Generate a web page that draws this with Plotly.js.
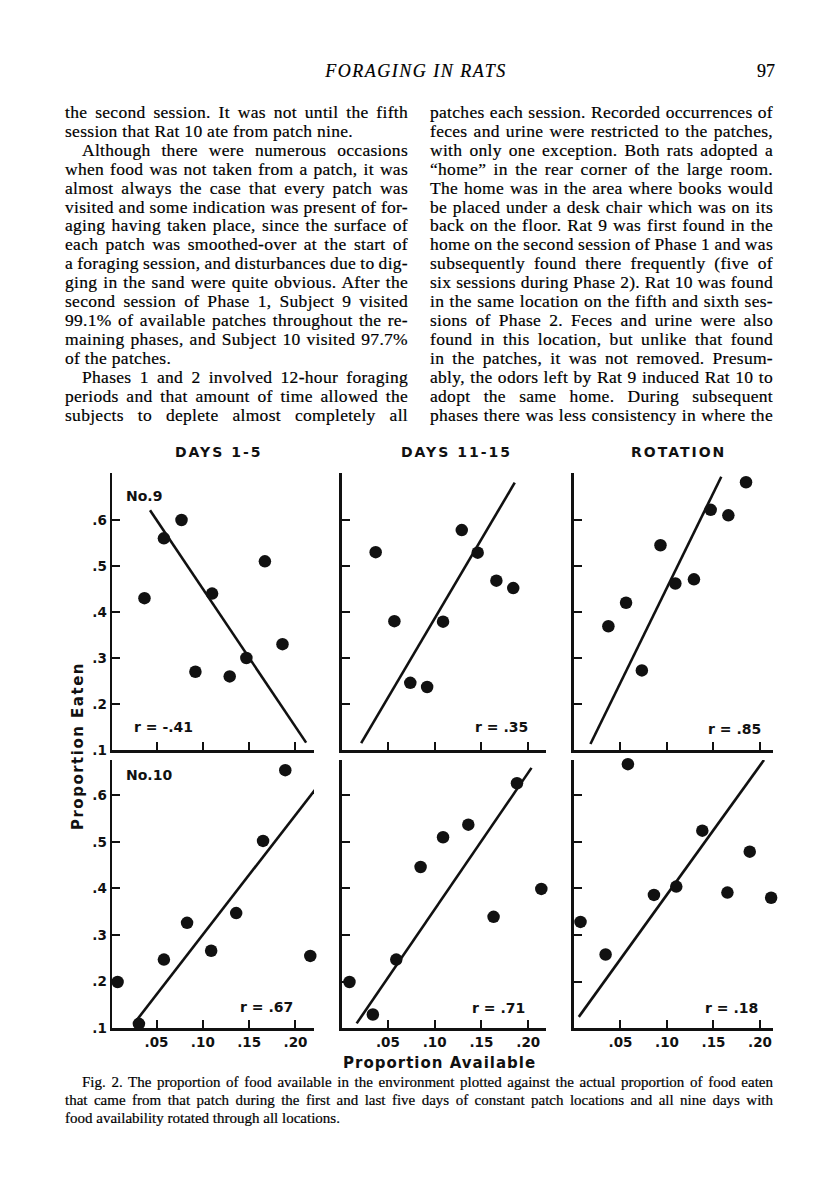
<!DOCTYPE html>
<html>
<head>
<meta charset="utf-8">
<title>Foraging in Rats - Fig. 2</title>
<script src="https://cdn.plot.ly/plotly-3.0.1.min.js"></script>
<style>
  body { margin: 0; background: #fff; }
  #page { position: relative; width: 816px; height: 1200px; overflow: hidden; background: #fff; }
  #plot { position: absolute; left: 0; top: 0; width: 816px; height: 1200px; }
  .serif { position: absolute; font-family: "Liberation Serif", "Times New Roman", serif; color: #000; -webkit-text-stroke: 0.2px #000; }
  .col { top: 103px; width: 343px; font-size: 17.5px; line-height: 18.9px; letter-spacing: 0.3px; }
  .ln { white-space: nowrap; }
  .ind { padding-left: 17px; }
  #runhead { top: 62px; left: 0; width: 832px; text-align: center; font-size: 18px; line-height: 1; font-style: italic; letter-spacing: 1.5px; }
  #folio { top: 62px; left: 700px; width: 75px; text-align: right; font-size: 18px; line-height: 1; }
  #caption { left: 65px; top: 1073px; width: 708px; font-size: 15px; line-height: 18px; }
</style>
</head>
<body>
<div id="page">
  <div id="plot"></div>

  <div class="serif" id="runhead">FORAGING IN RATS</div>
  <div class="serif" id="folio">97</div>

  <div class="serif col" id="left" style="left:65px">
    <div class="ln j"><span>the second session. It was not until the fifth</span></div>
    <div class="ln"><span>session that Rat 10 ate from patch nine.</span></div>
    <div class="ln j ind"><span>Although there were numerous occasions</span></div>
    <div class="ln j"><span>when food was not taken from a patch, it was</span></div>
    <div class="ln j"><span>almost always the case that every patch was</span></div>
    <div class="ln j"><span>visited and some indication was present of for-</span></div>
    <div class="ln j"><span>aging having taken place, since the surface of</span></div>
    <div class="ln j"><span>each patch was smoothed-over at the start of</span></div>
    <div class="ln j"><span>a foraging session, and disturbances due to dig-</span></div>
    <div class="ln j"><span>ging in the sand were quite obvious. After the</span></div>
    <div class="ln j"><span>second session of Phase 1, Subject 9 visited</span></div>
    <div class="ln j"><span>99.1% of available patches throughout the re-</span></div>
    <div class="ln j"><span>maining phases, and Subject 10 visited 97.7%</span></div>
    <div class="ln"><span>of the patches.</span></div>
    <div class="ln j ind"><span>Phases 1 and 2 involved 12-hour foraging</span></div>
    <div class="ln j"><span>periods and that amount of time allowed the</span></div>
    <div class="ln j"><span>subjects to deplete almost completely all</span></div>
  </div>

  <div class="serif col" id="right" style="left:430px">
    <div class="ln j"><span>patches each session. Recorded occurrences of</span></div>
    <div class="ln j"><span>feces and urine were restricted to the patches,</span></div>
    <div class="ln j"><span>with only one exception. Both rats adopted a</span></div>
    <div class="ln j"><span>“home” in the rear corner of the large room.</span></div>
    <div class="ln j"><span>The home was in the area where books would</span></div>
    <div class="ln j"><span>be placed under a desk chair which was on its</span></div>
    <div class="ln j"><span>back on the floor. Rat 9 was first found in the</span></div>
    <div class="ln j"><span>home on the second session of Phase 1 and was</span></div>
    <div class="ln j"><span>subsequently found there frequently (five of</span></div>
    <div class="ln j"><span>six sessions during Phase 2). Rat 10 was found</span></div>
    <div class="ln j"><span>in the same location on the fifth and sixth ses-</span></div>
    <div class="ln j"><span>sions of Phase 2. Feces and urine were also</span></div>
    <div class="ln j"><span>found in this location, but unlike that found</span></div>
    <div class="ln j"><span>in the patches, it was not removed. Presum-</span></div>
    <div class="ln j"><span>ably, the odors left by Rat 9 induced Rat 10 to</span></div>
    <div class="ln j"><span>adopt the same home. During subsequent</span></div>
    <div class="ln j"><span>phases there was less consistency in where the</span></div>
  </div>

  <div class="serif" id="caption">
    <div class="ln j ind"><span>Fig. 2. The proportion of food available in the environment plotted against the actual proportion of food eaten</span></div>
    <div class="ln j"><span>that came from that patch during the first and last five days of constant patch locations and all nine days with</span></div>
    <div class="ln"><span>food availability rotated through all locations.</span></div>
  </div>
</div>

<script>
// spread each printed line over its column, like the typeset page
document.querySelectorAll(".ln.j").forEach((el) => {
  const span = el.querySelector("span");
  const gaps = (span.textContent.match(/ /g) || []).length;
  const indent = el.classList.contains("ind") ? 17 : 0;
  const target = el.parentElement.clientWidth - indent;
  const natural = span.getBoundingClientRect().width;
  if (gaps) span.style.wordSpacing = (target - natural) / gaps + "px";
});

// --- data ---
const availTicks = [0.05, 0.1, 0.15, 0.2];
const availTickText = [".05", ".10", ".15", ".20"];
const eatenTicks = [0.1, 0.2, 0.3, 0.4, 0.5, 0.6];
const eatenTickText = [".1", ".2", ".3", ".4", ".5", ".6"];

const periods = ["DAYS 1-5", "DAYS 11-15", "ROTATION"];
const rats = ["No.9", "No.10"];
const rLabels = ["r = -.41", "r = .35", "r = .85", "r = .67", "r = .71", "r = .18"];

// Rat 9
const avail9Days1 = [0.037, 0.058, 0.077, 0.092, 0.110, 0.129, 0.147, 0.167, 0.186];
const eaten9Days1 = [0.43, 0.56, 0.60, 0.27, 0.44, 0.26, 0.30, 0.51, 0.33];
const avail9Days11 = [0.037, 0.057, 0.074, 0.092, 0.109, 0.129, 0.146, 0.166, 0.184];
const eaten9Days11 = [0.53, 0.38, 0.246, 0.237, 0.379, 0.578, 0.529, 0.468, 0.452];
const avail9Rot = [0.037, 0.056, 0.073, 0.093, 0.109, 0.129, 0.147, 0.166, 0.185];
const eaten9Rot = [0.369, 0.42, 0.273, 0.545, 0.462, 0.471, 0.622, 0.61, 0.682];

// Rat 10
const avail10Days1 = [0.008, 0.031, 0.058, 0.083, 0.109, 0.136, 0.165, 0.189, 0.216];
const eaten10Days1 = [0.199, 0.109, 0.247, 0.326, 0.266, 0.347, 0.502, 0.654, 0.255];
const avail10Days11 = [0.009, 0.034, 0.059, 0.085, 0.109, 0.136, 0.163, 0.188, 0.214];
const eaten10Days11 = [0.199, 0.129, 0.247, 0.446, 0.51, 0.537, 0.339, 0.626, 0.399];
const avail10Rot = [0.007, 0.034, 0.058, 0.086, 0.110, 0.138, 0.165, 0.189, 0.212];
const eaten10Rot = [0.328, 0.258, 0.667, 0.386, 0.404, 0.524, 0.391, 0.479, 0.38];

// fitted lines (end points as drawn)
const fit9Days1X = [0.043, 0.2115];
const fit9Days1Y = [0.621, 0.116];
const fit9Days11X = [0.0215, 0.1856];
const fit9Days11Y = [0.115, 0.681];
const fit9RotX = [0.0177, 0.1584];
const fit9RotY = [0.113, 0.694];
const fit10Days1X = [0.0267, 0.2366];
const fit10Days1Y = [0.112, 0.652];
const fit10Days11X = [0.0167, 0.2035];
const fit10Days11Y = [0.11, 0.659];
const fit10RotX = [0.0052, 0.2043];
const fit10RotY = [0.124, 0.676];

const panels = [
  { x: avail9Days1, y: eaten9Days1, fx: fit9Days1X, fy: fit9Days1Y },
  { x: avail9Days11, y: eaten9Days11, fx: fit9Days11X, fy: fit9Days11Y },
  { x: avail9Rot, y: eaten9Rot, fx: fit9RotX, fy: fit9RotY },
  { x: avail10Days1, y: eaten10Days1, fx: fit10Days1X, fy: fit10Days1Y },
  { x: avail10Days11, y: eaten10Days11, fx: fit10Days11X, fy: fit10Days11Y },
  { x: avail10Rot, y: eaten10Rot, fx: fit10RotX, fy: fit10RotY },
];

// --- layout of the 2 x 3 grid (page pixels -> paper) ---
const colDomains = [[0.1373, 0.3848], [0.4191, 0.6691], [0.7034, 0.9473]];
const rowDomains = [[0.375, 0.6058], [0.1433, 0.3667]];
const xRanges = [[0.002, 0.22], [0.001, 0.219], [0, 0.214]];
const yRanges = [[0.1, 0.702], [0.1, 0.676]];

const ink = "#111";
const sans = "DejaVu Sans";
const tickFont = { family: sans, size: 13.5, weight: "bold", color: ink };

const traces = [];
const layout = {
  width: 816,
  height: 1200,
  margin: { l: 0, r: 0, t: 0, b: 0 },
  paper_bgcolor: "#fff",
  plot_bgcolor: "rgba(0,0,0,0)",
  showlegend: false,
  annotations: [],
};

panels.forEach((p, i) => {
  const row = Math.floor(i / 3);
  const col = i % 3;
  const s = i === 0 ? "" : String(i + 1);

  traces.push({
    x: p.fx,
    y: p.fy,
    xaxis: "x" + s,
    yaxis: "y" + s,
    mode: "lines",
    line: { color: ink, width: 2.6 },
    hoverinfo: "skip",
  });
  traces.push({
    x: p.x,
    y: p.y,
    xaxis: "x" + s,
    yaxis: "y" + s,
    mode: "markers",
    marker: { color: ink, size: 12.5 },
    cliponaxis: false,
  });

  layout["xaxis" + s] = {
    domain: colDomains[col],
    range: xRanges[col],
    anchor: "y" + s,
    showline: true,
    linecolor: ink,
    linewidth: 2.5,
    ticks: "inside",
    ticklen: 8,
    tickwidth: 2,
    tickcolor: ink,
    tickvals: availTicks,
    ticktext: availTickText,
    showticklabels: row === 1,
    tickfont: tickFont,
    showgrid: false,
    zeroline: false,
    fixedrange: true,
  };
  layout["yaxis" + s] = {
    domain: rowDomains[row],
    range: yRanges[row],
    anchor: "x" + s,
    showline: true,
    linecolor: ink,
    linewidth: 2.5,
    ticks: "inside",
    ticklen: 8,
    tickwidth: 2,
    tickcolor: ink,
    tickvals: eatenTicks,
    ticktext: eatenTickText,
    showticklabels: col === 0,
    tickfont: tickFont,
    showgrid: false,
    zeroline: false,
    fixedrange: true,
  };
});

// column headings
const headX = [0.2684, 0.56, 0.832];
periods.forEach((t, c) => {
  layout.annotations.push({
    text: '<span style="letter-spacing:2px">' + t + "</span>",
    xref: "paper", yref: "paper",
    x: headX[c], y: 0.6233,
    xanchor: "center", yanchor: "middle",
    showarrow: false,
    font: { family: sans, size: 14, weight: "bold", color: ink },
  });
});

// rat labels
const ratY = [0.5867, 0.3542];
rats.forEach((t, r) => {
  layout.annotations.push({
    text: t,
    xref: "paper", yref: "paper",
    x: 0.152, y: ratY[r],
    xanchor: "left", yanchor: "middle",
    showarrow: false,
    font: { family: sans, size: 14, weight: "bold", color: ink },
  });
});

// correlation labels
const rRight = [0.239, 0.6495, 0.935, 0.3615, 0.6458, 0.9314];
const rY = [0.394, 0.394, 0.3925, 0.1608, 0.16, 0.16];
rLabels.forEach((t, i) => {
  layout.annotations.push({
    text: t,
    xref: "paper", yref: "paper",
    x: rRight[i], y: rY[i],
    xanchor: "right", yanchor: "middle",
    showarrow: false,
    font: { family: sans, size: 14, weight: "bold", color: ink },
  });
});

// shared axis titles
layout.annotations.push({
  text: '<span style="letter-spacing:1.5px">Proportion Eaten</span>',
  xref: "paper", yref: "paper",
  x: 0.0956, y: 0.3783,
  xanchor: "center", yanchor: "middle",
  textangle: -90,
  showarrow: false,
  font: { family: sans, size: 15, weight: "bold", color: ink },
});
layout.annotations.push({
  text: '<span style="letter-spacing:1px">Proportion Available</span>',
  xref: "paper", yref: "paper",
  x: 0.539, y: 0.1142,
  xanchor: "center", yanchor: "middle",
  showarrow: false,
  font: { family: sans, size: 15, weight: "bold", color: ink },
});

Plotly.newPlot("plot", traces, layout, { staticPlot: true });
</script>
</body>
</html>
